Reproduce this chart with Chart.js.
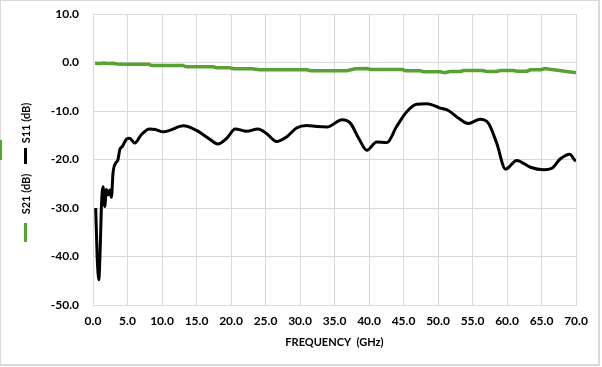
<!DOCTYPE html>
<html>
<head>
<meta charset="utf-8">
<script src="https://cdn.jsdelivr.net/npm/chart.js@4"></script>
<style>
  body { margin: 0; background: #fff; }
  canvas { display: block; }
</style>
</head>
<body>
<canvas id="sparamChart" width="602" height="367"></canvas>
<script>
// S11 trace
const s11Freq = [0.39, 0.6, 0.73, 0.83, 1.07, 1.2, 1.45, 1.7, 1.94, 2.2, 2.45, 2.67, 2.9, 3.3, 3.6, 3.9, 4.26, 4.85, 5.3, 6.05, 7.0, 8.2, 9.0, 10.2, 11.1, 13.1, 15.0, 16.9, 18.1, 19.4, 20.6, 22.3, 23.9, 25.2, 26.6, 28.1, 29.5, 31.0, 32.4, 33.9, 36.1, 37.3, 38.5, 39.7, 41.1, 42.6, 44.0, 45.5, 46.9, 48.4, 50.3, 51.5, 53.0, 54.4, 56.1, 57.3, 58.5, 59.8, 61.4, 63.4, 65.3, 66.5, 67.7, 69.1, 69.8, 70.0];
const s11Values = [-30.0, -40.0, -43.4, -44.8, -37.2, -30.4, -25.6, -29.7, -26.2, -27.3, -26.3, -27.8, -22.8, -20.7, -20.1, -17.9, -17.3, -15.8, -15.6, -16.6, -14.9, -13.7, -13.8, -14.3, -14.0, -13.05, -14.0, -15.8, -16.8, -15.6, -13.7, -14.2, -13.7, -14.7, -16.3, -15.3, -13.5, -13.0, -13.2, -13.3, -11.8, -12.5, -15.6, -18.1, -16.4, -16.5, -13.2, -10.1, -8.6, -8.5, -9.4, -9.9, -11.5, -12.6, -11.7, -12.5, -16.6, -22.0, -20.2, -21.6, -22.1, -21.8, -19.9, -18.9, -20.1, -20.3];

// S21 trace
const s21Freq = [0.3, 1.0, 1.5, 2.2, 2.9, 3.5, 4.8, 8.0, 8.5, 13.0, 13.5, 17.4, 18.0, 19.8, 20.4, 23.0, 24.2, 31.0, 31.5, 36.8, 38.0, 39.7, 40.2, 44.8, 45.3, 47.4, 47.9, 50.3, 51.0, 51.7, 53.3, 53.7, 56.5, 57.0, 58.5, 59.0, 61.0, 61.4, 62.9, 63.4, 64.9, 65.5, 66.2, 67.6, 68.6, 69.8, 70.0];
const s21Values = [-0.15, -0.2, -0.1, -0.2, -0.15, -0.3, -0.35, -0.35, -0.6, -0.6, -0.9, -0.9, -1.1, -1.1, -1.3, -1.3, -1.5, -1.5, -1.7, -1.7, -1.3, -1.24, -1.45, -1.45, -1.7, -1.7, -1.9, -1.9, -2.1, -1.85, -1.85, -1.65, -1.65, -1.85, -1.85, -1.65, -1.65, -1.8, -1.8, -1.5, -1.5, -1.24, -1.4, -1.65, -1.85, -2.06, -2.1];

const xTicks = [0, 70, 5];     // min, max, step
const yTicks = [-50, 10, 10];
const seriesNames = ['S11 (dB)', 'S21 (dB)'];
const seriesColors = ['#000000', '#5aa134'];

const FONT = 'Lato, "Open Sans", sans-serif';

const toPoints = (xs, ys) => xs.map((x, i) => ({ x: x, y: ys[i] }));

// frame + white background
const framePlugin = {
  id: 'frame',
  beforeDraw(chart) {
    const c = chart.ctx;
    c.save();
    c.fillStyle = '#fff';
    c.fillRect(0, 0, chart.width, chart.height);
    c.strokeStyle = '#d9d9d9';
    c.lineWidth = 2;
    c.strokeRect(0, 0, 599, 365);
    c.fillStyle = seriesColors[1];
    c.fillRect(0, 140, 2, 20);
    c.restore();
  }
};

// vertical legend on the left, as in the original
const sideLegend = {
  id: 'sideLegend',
  afterDraw(chart) {
    const c = chart.ctx;
    c.save();
    c.font = 'bold 11px ' + FONT;
    c.fillStyle = '#000';
    c.textAlign = 'center';
    c.textBaseline = 'middle';
    [[seriesNames[0], 123], [seriesNames[1], 194]].forEach(([txt, y]) => {
      c.save();
      c.translate(26, y);
      c.rotate(-Math.PI / 2);
      c.fillText(txt, 0, 0);
      c.restore();
    });
    c.fillStyle = seriesColors[0];
    c.fillRect(24, 148, 3, 16);
    c.fillStyle = seriesColors[1];
    c.fillRect(24, 223, 3, 19);
    c.restore();
  }
};

new Chart(document.getElementById('sparamChart'), {
  type: 'line',
  data: {
    datasets: [{
      label: seriesNames[0],
      data: toPoints(s11Freq, s11Values),
      borderColor: seriesColors[0],
      borderWidth: 3,
      pointRadius: 0,
      cubicInterpolationMode: 'monotone'
    }, {
      label: seriesNames[1],
      data: toPoints(s21Freq, s21Values),
      borderColor: seriesColors[1],
      borderWidth: 3.5,
      pointRadius: 0,
      tension: 0
    }]
  },
  options: {
    responsive: false,
    animation: false,
    layout: { padding: { top: 14, right: 26, left: 0, bottom: 0 } },
    plugins: { legend: { display: false }, tooltip: { enabled: false } },
    scales: {
      x: {
        type: 'linear',
        min: xTicks[0], max: xTicks[1],
        afterFit: s => { s.height = 62; },
        grid: { color: '#d9d9d9', drawTicks: false },
        border: { color: '#d9d9d9' },
        ticks: {
          stepSize: xTicks[2],
          padding: 9,
          maxRotation: 0,
          color: '#000',
          font: { family: FONT, size: 12, weight: 'bold' },
          callback: v => v.toFixed(1)
        },
        title: {
          display: true,
          text: 'FREQUENCY  (GHz)',
          color: '#000',
          font: { family: FONT, size: 11, weight: 'bold' },
          padding: { top: 0, bottom: 18 }
        }
      },
      y: {
        min: yTicks[0], max: yTicks[1],
        afterFit: s => { s.width = 93; s.paddingTop = 0; s.paddingBottom = 0; },
        grid: { color: '#d9d9d9', drawTicks: false },
        border: { color: '#d9d9d9' },
        ticks: {
          stepSize: yTicks[2],
          padding: 14,
          color: '#000',
          font: { family: FONT, size: 12, weight: 'bold' },
          callback: v => v.toFixed(1)
        }
      }
    }
  },
  plugins: [framePlugin, sideLegend]
});
</script>
</body>
</html>
